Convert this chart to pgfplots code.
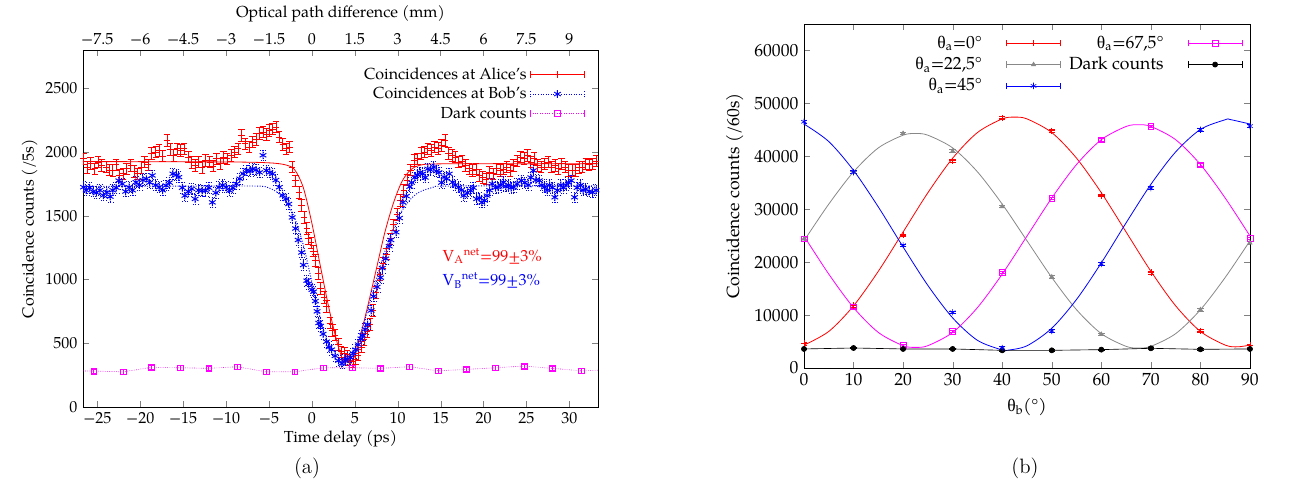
\documentclass[border=0pt]{standalone}
\usepackage{fontspec}
\setmainfont{TeX Gyre Pagella}
\newfontfamily\lmfont{Latin Modern Roman}
\newfontfamily\grk{Liberation Serif}
\usepackage{pgfplots}
\pgfplotsset{compat=1.18}
\definecolor{fgray}{RGB}{136,136,136}
\definecolor{mag}{RGB}{255,0,255}
\definecolor{myred}{RGB}{255,0,0}
\definecolor{myblue}{RGB}{0,0,255}
\pgfplotsset{
  every axis/.append style={font=\fontsize{10}{12}\selectfont},
  /pgf/number format/assume math mode=true,
  /pgf/number format/1000 sep={},
  errlegend/.style={legend image code/.code={
    \draw[##1,mark=none] (0pt,0pt) -- (34pt,0pt);
    \draw[##1,mark=none,solid] (0pt,-2pt) -- (0pt,2pt) (34pt,-2pt) -- (34pt,2pt);
    \draw[##1,solid] plot coordinates {(17pt,0pt)};
  }},
  emark/.style={error bars/.cd, y dir=both, y fixed=#1,
    error bar style={line width=0.4pt,solid},
    error mark options={rotate=90, mark size=2pt, line width=0.4pt, solid}},
}
\begin{document}
\begin{tikzpicture}[x=1pt,y=1pt]
\useasboundingbox (0,0) rectangle (815,308.75);
% top axis (drawn first)
\begin{axis}[at={(51.875pt,54.375pt)}, anchor=south west, scale only axis,
  width=321.875pt, height=223.125pt,
  xmin=-8, xmax=10, ymin=0, ymax=2800,
  axis x line*=top, axis y line=none,
  xtick={-7.5,-6,-4.5,-3,-1.5,0,1.5,3,4.5,6,7.5,9},
  xticklabels={−7.5,−6,−4.5,−3,−1.5,0,1.5,3,4.5,6,7.5,9},
  major tick length=4pt,
  xlabel={Optical path difference (mm)}]
\end{axis}
% ---------------- left panel ----------------
\begin{axis}[at={(51.875pt,54.375pt)}, anchor=south west, scale only axis,
  width=321.875pt, height=223.125pt,
  xmin=-26.67, xmax=33.33, ymin=0, ymax=2800,
  xtick={-25,-20,...,30},
  xticklabels={−25,−20,−15,−10,−5,0,5,10,15,20,25,30},
  xtick pos=bottom, ytick={0,500,1000,1500,2000,2500}, ytick pos=both, yticklabel pos=left,
  yticklabels={0,500,1000,1500,2000,2500},
  major tick length=4pt,
  xlabel={Time delay (ps)}, ylabel={Coincidence counts (/5s)},
  xlabel style={yshift=3pt}, ylabel style={yshift=-2pt},
  legend plot pos=right,
  legend style={at={(0.985,0.97)}, anchor=north east, draw=none, fill=none,
    cells={anchor=east}, row sep=-0.5pt,
    /tikz/every even column/.append style={column sep=4pt}},
  clip=true]
% dark counts extension
\addplot[mag, densely dotted, forget plot] coordinates {(-26.67,283)(-25.42,282)};
\addplot[mag, densely dotted, forget plot] coordinates {(31.39,284)(33.33,288)};
% red fit
\addplot[myred, line width=0.5pt, smooth, forget plot] coordinates {
(-26.67,1925)(-10,1922)(-5,1915)(-3,1898)(-2,1860)(-1,1720)(0,1440)(1,1100)(2,770)(3,490)(3.7,355)(4.2,325)(4.8,370)(5.5,520)(6.5,790)(7.5,1080)(8.5,1370)(9.5,1600)(10.5,1770)(11.5,1860)(12.5,1895)(14,1906)(20,1908)(33.33,1908)};
% blue fit
\addplot[myblue, densely dotted, line width=0.6pt, smooth, forget plot] coordinates {
(-26.67,1730)(-10,1733)(-6,1732)(-5,1718)(-4,1682)(-3,1610)(-2,1480)(-1,1270)(0,980)(1,690)(2,470)(3,350)(3.6,330)(4.5,380)(5.5,540)(6.5,760)(7.5,1000)(8.5,1220)(9.5,1400)(10.5,1540)(11.5,1630)(12.5,1685)(14,1720)(16,1733)(33.33,1735)};
% Alice
\addplot[myred, only marks, mark=+, mark size=2pt, forget plot, emark=45] table {
x y
-26.6 1947
-26.2 1880
-25.8 1910
-25.3 1870
-24.9 1921
-24.5 1895
-24.0 1882
-23.6 1860
-23.2 1855
-22.8 1900
-22.4 1816
-22.0 1829
-21.6 1870
-21.1 1895
-20.7 1850
-20.3 1829
-19.9 1880
-19.5 1921
-19.1 1900
-18.7 1990
-18.2 2000
-17.8 2013
-17.4 1970
-16.9 2092
-16.5 2020
-16.1 1974
-15.7 2026
-15.3 2013
-14.9 2026
-14.4 1961
-14.0 1920
-13.6 1895
-13.2 1921
-12.8 1880
-12.4 1934
-11.9 1921
-11.5 1890
-11.1 1947
-10.7 1908
-10.3 1960
-9.9 1947
-9.4 1974
-9.0 2000
-8.6 2026
-8.2 2132
-7.8 2066
-7.3 2040
-6.9 2079
-6.5 2100
-6.1 2145
-5.7 2158
-5.3 2140
-5.0 2171
-4.6 2180
-4.2 2197
-3.8 2118
-3.4 2060
-3.0 2026
-2.6 2039
-2.3 1882
-1.9 1776
-1.5 1684
-1.2 1580
-0.9 1487
-0.6 1400
-0.4 1322
-0.1 1289
0.2 1224
0.4 1150
0.7 1050
1.0 930
1.4 860
1.7 790
2.1 660
2.4 600
2.7 566
3.1 490
3.4 434
3.8 421
4.1 400
4.4 370
4.8 355
5.1 377
5.4 408
5.8 470
6.1 530
6.4 590
6.8 650
7.1 760
7.5 900
7.9 1040
8.3 1130
8.7 1200
9.1 1320
9.5 1430
9.9 1510
10.3 1620
10.7 1700
11.1 1780
11.5 1860
11.9 1934
12.3 1947
12.7 1990
13.1 2000
13.5 2026
13.9 2013
14.3 2039
14.7 2030
15.1 2053
15.5 2092
15.9 1990
16.3 1974
16.7 1961
17.1 1921
17.5 1930
17.9 1895
18.3 1870
18.7 1855
19.1 1868
19.5 1816
19.9 1800
20.3 1789
20.7 1840
21.1 1829
21.5 1870
21.9 1855
22.3 1868
22.7 1882
23.1 1855
23.5 1895
23.9 1930
24.3 1961
24.7 1950
25.1 1974
25.5 1921
25.9 1950
26.3 1895
26.7 1882
27.1 1908
27.5 1921
27.9 1882
28.3 1895
28.7 1870
29.1 1908
29.5 1882
29.9 1855
30.3 1860
30.7 1855
31.1 1880
31.5 1882
31.9 1908
32.3 1900
32.7 1908
33.1 1930
};
% Bob
\addplot[myblue, only marks, mark=asterisk, mark size=2.4pt, mark options={solid, line width=0.6pt}, forget plot,
  error bars/.cd, y dir=both, y fixed=42,
  error bar style={line width=0.5pt, densely dotted},
  error mark options={rotate=90, mark size=2pt, line width=0.5pt, densely dotted}] table {
x y
-26.6 1724
-26.3 1700
-25.9 1720
-25.5 1690
-25.1 1680
-24.7 1700
-24.3 1660
-23.9 1684
-23.5 1650
-23.2 1700
-22.8 1720
-22.5 1776
-22.1 1750
-21.7 1690
-21.3 1724
-20.9 1700
-20.5 1763
-20.1 1740
-19.7 1780
-19.3 1790
-18.9 1760
-18.6 1816
-18.2 1740
-17.8 1724
-17.4 1700
-17.0 1737
-16.6 1760
-16.2 1829
-15.8 1820
-15.5 1803
-15.1 1720
-14.8 1658
-14.4 1690
-14.0 1711
-13.6 1632
-13.2 1700
-12.8 1697
-12.4 1697
-12.0 1720
-11.6 1605
-11.2 1680
-10.8 1724
-10.4 1740
-10.0 1724
-9.6 1697
-9.2 1720
-8.8 1750
-8.4 1790
-8.0 1830
-7.6 1855
-7.2 1850
-6.9 1868
-6.5 1860
-6.1 1840
-5.7 1974
-5.3 1855
-4.9 1840
-4.6 1829
-4.2 1780
-3.8 1724
-3.4 1660
-3.0 1632
-2.7 1592
-2.3 1487
-1.9 1400
-1.6 1310
-1.2 1212
-1.0 1114
-0.6 991
-0.4 966
0.0 920
0.2 905
0.4 831
0.6 750
0.8 659
1.0 635
1.3 573
1.7 512
2.0 470
2.3 450
2.7 401
3.1 364
3.5 342
3.9 368
4.1 377
4.5 389
4.8 420
5.1 450
5.4 490
5.7 536
5.9 561
6.2 610
6.5 647
6.9 757
7.2 868
7.6 942
8.0 1015
8.2 1089
8.6 1163
9.0 1261
9.2 1310
9.8 1371
10.2 1482
10.6 1605
11.0 1654
11.4 1728
11.6 1760
12.0 1800
12.3 1820
12.6 1840
12.9 1829
13.2 1800
13.5 1868
13.8 1860
14.2 1882
14.5 1850
14.8 1840
15.1 1760
15.4 1803
15.7 1790
16.0 1829
16.4 1763
16.7 1740
17.1 1724
17.4 1700
17.7 1658
18.1 1680
18.5 1697
18.8 1720
19.2 1632
19.5 1640
19.8 1605
20.1 1620
20.4 1658
20.7 1700
21.0 1750
21.4 1720
21.7 1724
22.0 1740
22.3 1763
22.6 1730
22.9 1740
23.2 1720
23.5 1724
23.9 1750
24.4 1776
24.8 1760
25.2 1740
25.5 1800
25.8 1855
26.1 1780
26.5 1776
26.8 1740
27.1 1724
27.4 1700
27.7 1740
28.0 1720
28.3 1645
28.6 1700
29.0 1740
29.3 1720
29.6 1740
29.9 1760
30.2 1776
30.6 1645
30.9 1720
31.3 1740
31.6 1700
31.9 1710
32.3 1690
32.7 1684
33.1 1700
};
% Dark counts
\addplot[mag, densely dotted, mark=square, mark size=1.8pt, mark options={solid}, forget plot, emark=17] table {
x y
-25.42 282
-21.95 276
-18.70 311
-15.36 308
-12.02 303
-8.68 316
-5.34 276
-2.00 276
1.34 308
4.68 308
8.01 303
11.35 316
14.69 284
18.03 295
21.37 308
24.71 321
28.05 303
31.39 284
};
\addlegendimage{legend image code/.code={
  \draw[myred, line width=0.6pt] (0pt,0pt) -- (34pt,0pt);
  \draw[myred, line width=0.6pt] (0pt,-2pt) -- (0pt,2pt) (34pt,-2pt) -- (34pt,2pt);
  \draw[myred, line width=0.6pt, mark=+, mark size=2pt] plot coordinates {(17pt,0pt)};}}
\addlegendentry{Coincidences at Alice’s}
\addlegendimage{legend image code/.code={
  \draw[myblue, line width=0.6pt, densely dotted] (0pt,0pt) -- (34pt,0pt);
  \draw[myblue, line width=0.6pt, densely dotted] (0pt,-2pt) -- (0pt,2pt) (34pt,-2pt) -- (34pt,2pt);
  \draw[myblue, line width=0.6pt, mark=asterisk, mark size=2.4pt] plot coordinates {(17pt,0pt)};}}
\addlegendentry{Coincidences at Bob’s}
\addlegendimage{legend image code/.code={
  \draw[mag, line width=0.5pt, densely dotted] (0pt,0pt) -- (34pt,0pt);
  \draw[mag, line width=0.5pt] (0pt,-2pt) -- (0pt,2pt) (34pt,-2pt) -- (34pt,2pt);
  \draw[mag, line width=0.5pt, mark=square, mark size=1.8pt] plot coordinates {(17pt,0pt)};}}
\addlegendentry{Dark counts}
\node[myred, anchor=west, inner sep=0pt] at (axis cs:15.2,1180) {V\textsubscript{A}\textsuperscript{net}=99±3\%};
\node[myblue, anchor=west, inner sep=0pt] at (axis cs:15.2,990) {V\textsubscript{B}\textsuperscript{net}=99±3\%};
\end{axis}
% ---------------- right panel ----------------
\begin{axis}[at={(502.5pt,78.75pt)}, anchor=south west, scale only axis,
  width=278.75pt, height=215pt,
  font=\fontsize{11}{13.2}\selectfont,
  xmin=0, xmax=90, ymin=0, ymax=65000,
  xtick={0,10,...,90}, ytick={0,10000,...,60000},
  yticklabels={0,10000,20000,30000,40000,50000,60000},
  scaled y ticks=false,
  xtick pos=both, ytick pos=both, xticklabel pos=bottom, yticklabel pos=left,
  major tick length=4pt,
  xlabel={{\grk θ}\textsubscript{b}(°)}, ylabel={Coincidence counts (/60s)},
  xlabel style={yshift=-1pt},
  errlegend, legend plot pos=right, legend columns=2,
  legend style={at={(0.995,0.985)}, anchor=north east, draw=none, fill=none,
    cells={anchor=east}, row sep=0pt,
    /tikz/every even column/.append style={column sep=3pt},
    /tikz/every odd column/.append style={column sep=13pt}},
  clip=true]
% fits
\addplot[myred, line width=0.5pt, smooth, forget plot] coordinates {
(0,4330)(5,6910)(10,11750)(15,18280)(20,25700)(25,33120)(30,39650)(35,44490)(40,47070)(42.5,47400)(45,47070)(50,44490)(55,39650)(60,33120)(65,25700)(70,18280)(75,11750)(80,6910)(85,4330)(87.5,4000)(90,4330)};
\addplot[fgray, line width=0.5pt, smooth, forget plot] coordinates {
(0,24040)(5,30970)(10,37070)(15,41590)(20,43990)(22.5,44300)(25,43990)(30,41590)(35,37070)(40,30970)(45,24040)(50,17110)(55,11010)(60,6490)(65,4090)(67.5,3780)(70,4090)(75,6490)(80,11010)(85,17110)(90,24040)};
\addplot[myblue, line width=0.5pt, smooth, forget plot] coordinates {
(0,46100)(5,42790)(10,37340)(15,30430)(20,22870)(25,15600)(30,9470)(35,5230)(40,3400)(41,3350)(45,4200)(50,7510)(55,12960)(60,19870)(65,27430)(70,34700)(75,40830)(80,45080)(85,46910)(86,46950)(90,46100)};
\addplot[mag, line width=0.5pt, smooth, forget plot] coordinates {
(0,24930)(5,17740)(10,11410)(15,6720)(20,4220)(22.5,3900)(25,4220)(30,6720)(35,11410)(40,17740)(45,24930)(50,32120)(55,38450)(60,43140)(65,45640)(67.5,45960)(70,45640)(75,43140)(80,38450)(85,32120)(90,24930)};
% data
\addplot[myred, only marks, mark=+, mark size=2pt, forget plot, emark=250] coordinates {
(0,4600)(10,11800)(20,25100)(30,39150)(40,47230)(50,44830)(60,32600)(70,18030)(80,7000)(90,4220)};
\addplot[mag, only marks, mark=square, mark size=1.8pt, forget plot, emark=250] coordinates {
(0,24400)(10,11540)(20,4220)(30,6940)(40,18100)(50,32090)(60,43130)(70,45650)(80,38400)(90,24530)};
\addplot[fgray, only marks, mark=triangle*, mark size=1.5pt, forget plot, emark=250] coordinates {
(0,24400)(10,37000)(20,44330)(30,40980)(40,30520)(50,17210)(60,6370)(70,3780)(80,11030)(90,23640)};
\addplot[black, mark=*, mark size=1.6pt, forget plot, emark=150] coordinates {
(0,3600)(10,3780)(20,3600)(30,3600)(40,3340)(50,3340)(60,3470)(70,3720)(80,3530)(90,3600)};
\addplot[myblue, only marks, mark=asterisk, mark size=2pt, forget plot, emark=250] coordinates {
(0,46530)(10,37010)(20,23200)(30,10530)(40,3780)(50,7000)(60,19670)(70,33990)(80,45020)(90,45710)};
% legend (two columns: 0, 67.5 / 22.5, dark / 45)
\addlegendimage{myred, mark=+, mark size=2pt}
\addlegendentry{{\grk θ}\textsubscript{a}=0°}
\addlegendimage{mag, mark=square, mark size=1.8pt}
\addlegendentry{{\grk θ}\textsubscript{a}=67,5°}
\addlegendimage{fgray, mark=triangle*, mark size=1.5pt}
\addlegendentry{{\grk θ}\textsubscript{a}=22,5°}
\addlegendimage{black, mark=*, mark size=1.6pt}
\addlegendentry{Dark counts}
\addlegendimage{myblue, mark=asterisk, mark size=2pt}
\addlegendentry{{\grk θ}\textsubscript{a}=45°}
\end{axis}
\node[font=\lmfont\fontsize{13}{15}\selectfont] at (191.9,16.25) {(a)};
\node[font=\lmfont\fontsize{13}{15}\selectfont] at (640.6,16.25) {(b)};
\end{tikzpicture}
\end{document}
